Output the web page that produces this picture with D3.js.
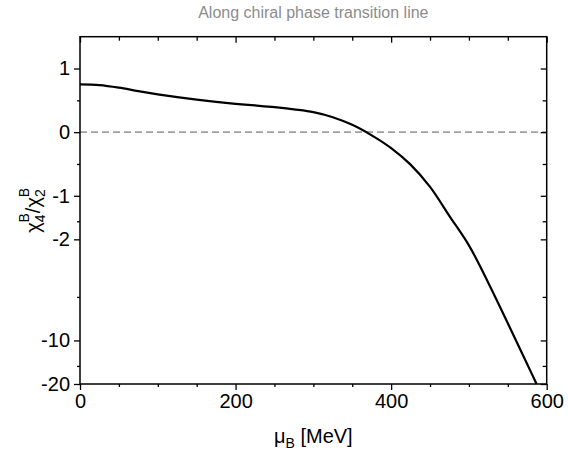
<!DOCTYPE html>
<html>
<head>
<meta charset="utf-8">
<script src="https://cdn.jsdelivr.net/npm/d3@7"></script>
<style>
  body { margin: 0; background: #fff; }
  svg { display: block; font-family: "Liberation Sans", Arial, sans-serif; }
</style>
</head>
<body>
<svg id="chart" width="568" height="451"></svg>
<script>
// curve: mu_B [MeV] -> chi4/chi2
const muB = [0, 25, 50, 75, 100, 125, 150, 175, 200, 225, 250, 275, 300, 325, 350, 375, 400, 425, 450, 475, 500, 525, 550, 575, 587];
const ratio = [0.75, 0.74, 0.70, 0.645, 0.595, 0.55, 0.51, 0.475, 0.445, 0.42, 0.393, 0.358, 0.315, 0.235, 0.115, -0.05, -0.25, -0.51, -0.86, -1.38, -2.2, -4.0, -7.6, -14.6, -20];

const xMajor = [0, 200, 400, 600];
const xMinor = [50, 100, 150, 250, 300, 350, 450, 500, 550];
const yMajor = [1, 0, -1, -2, -10, -20];
const yMinor = [0.5, -0.5, -1.5, -5, -15];

// y axis: linear above -1, log below it
const K = 2.273;
const tf = v => v >= -1 ? v : -1 - K * Math.log10(-v);

const svg = d3.select('#chart');
const pL = 80, pR = 546.7, pT = 36.7, pB = 384;

const x = d3.scaleLinear().domain([0, 600]).range([pL, pR]);
const yt = d3.scaleLinear().domain([1.5, tf(-20)]).range([pT, pB]);
const y = v => yt(tf(v));

// zero line
svg.append('line')
  .attr('x1', pL).attr('x2', pR)
  .attr('y1', y(0)).attr('y2', y(0))
  .attr('stroke', '#a0a0a0')
  .attr('stroke-width', 1.6)
  .attr('stroke-dasharray', '7,4');

// curve
const pts = muB.map((m, i) => [m, ratio[i]]);
svg.append('path')
  .datum(pts)
  .attr('fill', 'none')
  .attr('stroke', '#000')
  .attr('stroke-width', 2.2)
  .attr('d', d3.line().x(d => x(d[0])).y(d => y(d[1])).curve(d3.curveCatmullRom.alpha(0.5)));

// frame
svg.append('rect')
  .attr('x', pL).attr('y', pT)
  .attr('width', pR - pL).attr('height', pB - pT)
  .attr('fill', 'none').attr('stroke', '#000').attr('stroke-width', 1.5);

function styleAxis(g) {
  g.select('.domain').remove();
  g.selectAll('line').attr('stroke', '#000').attr('stroke-width', 1.3);
  g.selectAll('text').attr('font-size', 20).attr('fill', '#000');
}

// bottom axis
svg.append('g').attr('transform', `translate(0,${pB})`)
  .call(d3.axisBottom(x).tickValues(xMajor).tickSize(6).tickPadding(4).tickFormat(d3.format('d')))
  .call(styleAxis);
svg.append('g').attr('transform', `translate(0,${pB})`)
  .call(d3.axisBottom(x).tickValues(xMinor).tickSize(3).tickFormat(''))
  .call(styleAxis);
// top axis (inward)
svg.append('g').attr('transform', `translate(0,${pT})`)
  .call(d3.axisBottom(x).tickValues(xMajor).tickSize(6).tickFormat(''))
  .call(styleAxis);
svg.append('g').attr('transform', `translate(0,${pT})`)
  .call(d3.axisBottom(x).tickValues(xMinor).tickSize(4).tickFormat(''))
  .call(styleAxis);

// left axis
const labelOf = {};
yMajor.forEach(v => { labelOf[tf(v)] = String(v); });
svg.append('g').attr('transform', `translate(${pL},0)`)
  .call(d3.axisLeft(yt).tickValues(yMajor.map(tf)).tickSize(6).tickPadding(4).tickFormat(t => labelOf[t]))
  .call(styleAxis);
svg.append('g').attr('transform', `translate(${pL},0)`)
  .call(d3.axisLeft(yt).tickValues(yMinor.map(tf)).tickSize(3).tickFormat(''))
  .call(styleAxis);
// right axis (inward)
svg.append('g').attr('transform', `translate(${pR},0)`)
  .call(d3.axisLeft(yt).tickValues(yMajor.map(tf)).tickSize(6).tickFormat(''))
  .call(styleAxis);
svg.append('g').attr('transform', `translate(${pR},0)`)
  .call(d3.axisLeft(yt).tickValues(yMinor.map(tf)).tickSize(4).tickFormat(''))
  .call(styleAxis);

// title
svg.append('text')
  .attr('x', (pL + pR) / 2).attr('y', 18)
  .attr('text-anchor', 'middle')
  .attr('font-size', 16).attr('fill', '#8c8c8c')
  .text('Along chiral phase transition line');

// x label
const xl = svg.append('text')
  .attr('x', (pL + pR) / 2).attr('y', 443)
  .attr('text-anchor', 'middle')
  .attr('font-size', 20);
xl.append('tspan').text('μ');
xl.append('tspan').attr('font-size', 14).attr('dy', 5).text('B');
xl.append('tspan').attr('dy', -5).text(' [MeV]');

// y label
const yl = svg.append('text')
  .attr('transform', `translate(40,${(pT + pB) / 2}) rotate(-90)`)
  .attr('text-anchor', 'middle')
  .attr('font-size', 20);
yl.append('tspan').text('χ');
yl.append('tspan').attr('font-size', 14).attr('dy', 5).text('4');
yl.append('tspan').attr('font-size', 14).attr('dx', -8).attr('dy', -16).text('B');
yl.append('tspan').attr('dy', 11).text('/χ');
yl.append('tspan').attr('font-size', 14).attr('dy', 5).text('2');
yl.append('tspan').attr('font-size', 14).attr('dx', -8).attr('dy', -16).text('B');
</script>
</body>
</html>
